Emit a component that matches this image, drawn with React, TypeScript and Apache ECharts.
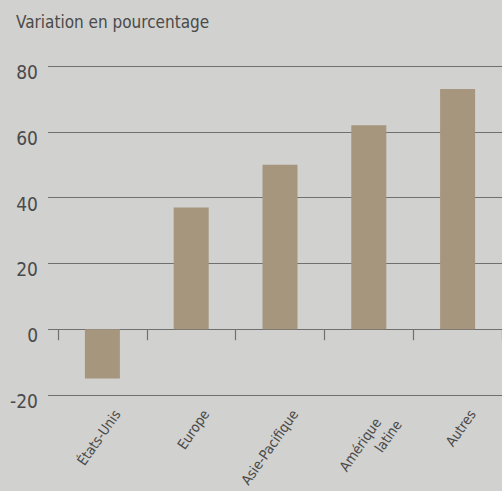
import React, { useEffect, useRef } from "react";
import * as echarts from "echarts";

const categories = ["États-Unis", "Europe", "Asie-Pacifique", "Amérique\nlatine", "Autres"];
const values = [-15, 37, 50, 62, 73];
const yTicks = { min: -20, max: 80, interval: 20 };
const titleText = "Variation en pourcentage";

const FONT = "'DejaVu Sans Condensed', 'Liberation Sans Narrow', sans-serif";
const TEXT = "#4a4a4a";
const GRID = "#707070";

export default function App() {
  const ref = useRef<HTMLDivElement>(null);
  useEffect(() => {
    if (!ref.current) return;
    const chart = echarts.init(ref.current, undefined, { renderer: "svg" });
    const gridPos = { top: 66, bottom: 96, containLabel: false, outerBoundsMode: "none" };
    const labelStyle = { fontFamily: FONT, fontSize: 14, color: TEXT, lineHeight: 18 };
    chart.setOption({
      animation: false,
      backgroundColor: "#d1d1cf",
      title: {
        text: titleText,
        left: 11,
        top: 8,
        textStyle: { fontFamily: FONT, fontSize: 17, fontWeight: "normal", color: TEXT },
      },
      grid: [
        { left: 48, right: 0, ...gridPos },
        { left: 58, right: 0, ...gridPos },
      ],
      xAxis: [
        { type: "value", gridIndex: 0, show: false, min: 0, max: 1 },
        {
          type: "category",
          gridIndex: 1,
          data: categories,
          position: "bottom",
          axisLine: { show: false, onZero: false },
          axisTick: { show: false },
          axisLabel: {
            rotate: 55,
            margin: 6,
            interval: 0,
            verticalAlign: "top",
            padding: [9, 0, 0, 0],
            ...labelStyle,
            formatter: (v: string) => {
              const parts = v.split("\n");
              if (parts.length === 2) return `{a|${parts[0]}}\n{b|${parts[1]}}`;
              return v;
            },
            rich: {
              a: { ...labelStyle, padding: [0, 10, 0, 0] },
              b: { ...labelStyle },
            },
          },
        },
        {
          type: "category",
          gridIndex: 1,
          data: categories,
          position: "bottom",
          axisLine: { show: true, onZero: true, lineStyle: { color: GRID, width: 1.2 } },
          axisTick: { show: true, interval: 0, inside: false, length: 11, lineStyle: { color: GRID, width: 1.2 } },
          axisLabel: { show: false },
        },
      ],
      yAxis: [
        {
          type: "value",
          gridIndex: 0,
          ...yTicks,
          axisLine: { show: false },
          axisTick: { show: false },
          splitLine: { show: true, lineStyle: { color: GRID, width: 1.2 } },
          axisLabel: {
            margin: 10,
            verticalAlign: "top",
            lineHeight: 12,
            fontFamily: FONT,
            fontSize: 19,
            color: TEXT,
          },
        },
        {
          type: "value",
          gridIndex: 1,
          ...yTicks,
          show: false,
          splitLine: { show: false },
        },
      ],
      series: [
        {
          type: "bar",
          xAxisIndex: 1,
          yAxisIndex: 1,
          data: values,
          barWidth: 35,
          itemStyle: { color: "#a6967e" },
        },
      ],
    });
    return () => chart.dispose();
  }, []);
  return <div ref={ref} style={{ width: 502, height: 491, position: "fixed", left: 0, top: 0 }} />;
}
